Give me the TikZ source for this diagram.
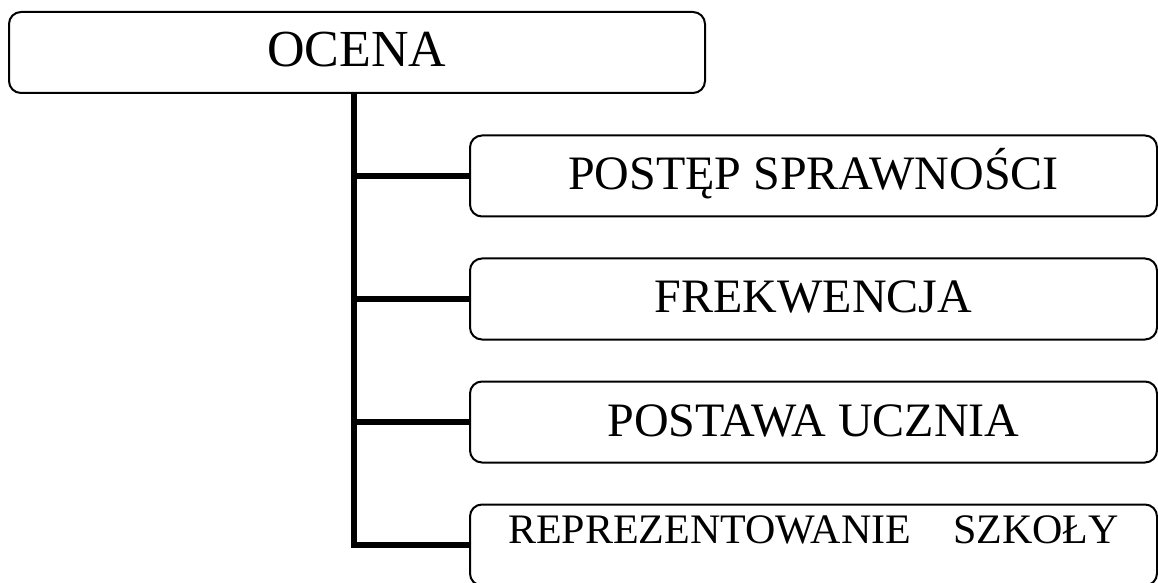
\documentclass[tikz,border=0pt]{standalone}
\usepackage{fontspec}
\setmainfont{Liberation Serif}
\usepackage{tikz}
\usetikzlibrary{positioning}
\tikzstyle{head} = [
  rectangle, rounded corners = 6pt,
  minimum width = 348pt, minimum height = 40.5pt,
  draw = black, line width = 1pt, text centered,
  font = \fontsize{26}{30}\selectfont, text height = 17pt, text depth = 3pt
]
\tikzstyle{crit} = [
  rectangle, rounded corners = 6pt,
  minimum width = 343.5pt, minimum height = 40.5pt,
  draw = black, line width = 1pt, text centered,
  font = \fontsize{24}{28}\selectfont, text height = 16pt, text depth = 2pt
]
\tikzstyle{branch} = [line width = 3pt, draw = black]

\begin{document}
\begin{tikzpicture}[x = 0.5pt, y = -0.5pt, node distance = 20pt]
  \useasboundingbox (0, 0) rectangle (1158, 583);
  \node [head] (ocena) at (357, 52.5) {OCENA};
  \node [crit] (postep) at (813.5, 176) {POSTĘP SPRAWNOŚCI};
  \node [crit, below = of postep] (frek) {FREKWENCJA};
  \node [crit, below = of frek] (postawa) {POSTAWA UCZNIA};
  \node [crit, below = of postawa, font = \fontsize{21}{25}\selectfont,
    text height = 13pt, text depth = 15pt] (rep) {REPREZENTOWANIE\quad SZKOŁY};
  \coordinate (pion) at (354, 0);

  \draw [branch] (ocena.south -| pion) -- (pion |- rep.west) -- (rep.west);
  \foreach \n in {postep, frek, postawa}
    \draw [branch] (pion |- \n.west) -- (\n.west);
\end{tikzpicture}
\end{document}
